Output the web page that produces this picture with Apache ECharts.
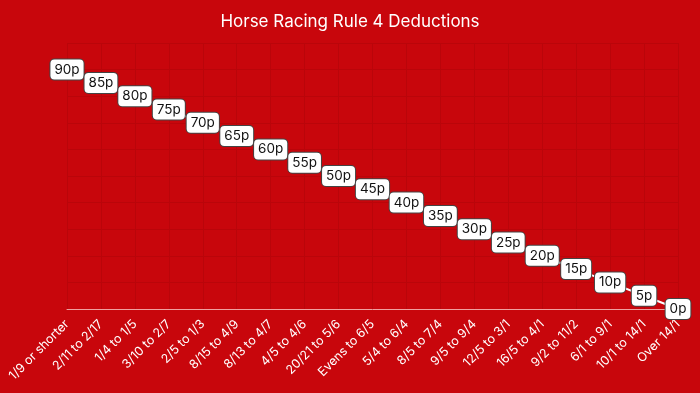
<!DOCTYPE html>
<html><head><meta charset="utf-8">
<script src="https://cdn.jsdelivr.net/npm/echarts@6/dist/echarts.min.js"></script>
<style>html,body{margin:0;padding:0;background:#C8060C;}#c{width:700px;height:393px;}</style>
</head><body><div id="c"></div>
<script>
const categories = ["1/9 or shorter","2/11 to 2/17","1/4 to 1/5","3/10 to 2/7","2/5 to 1/3","8/15 to 4/9","8/13 to 4/7","4/5 to 4/6","20/21 to 5/6","Evens to 6/5","5/4 to 6/4","8/5 to 7/4","9/5 to 9/4","12/5 to 3/1","16/5 to 4/1","9/2 to 11/2","6/1 to 9/1","10/1 to 14/1","Over 14/1"];
const deductions = [90,85,80,75,70,65,60,55,50,45,40,35,30,25,20,15,10,5,0];
const yTicks = {min:0, max:100, interval:10};

const chart = echarts.init(document.getElementById('c'));
chart.setOption({
  backgroundColor:'#C8060C',
  animation:false,
  title:{text:'Horse Racing Rule 4 Deductions', left:'center', top:8,
    textStyle:{color:'#fff', fontSize:17, fontWeight:'normal', fontFamily:'Inter, Lato, sans-serif'}},
  grid:{left:67, right:22, top:43, bottom:84},
  xAxis:{type:'category', data:categories, boundaryGap:false,
    axisLine:{lineStyle:{color:'#F0A0A0', width:1}},
    axisTick:{show:false},
    splitLine:{show:true, lineStyle:{color:'#BA050A', width:1}},
    axisLabel:{rotate:45, color:'#fff', fontSize:12.5, margin:13, interval:0, fontFamily:'Inter, Lato, sans-serif'}},
  yAxis:{type:'value', min:yTicks.min, max:yTicks.max, interval:yTicks.interval,
    axisLabel:{show:false}, axisLine:{show:false}, axisTick:{show:false},
    splitLine:{show:true, lineStyle:{color:'#BA050A', width:1}}},
  series:[{type:'line', data:deductions, symbol:'circle', symbolSize:2,
    lineStyle:{color:'#fff', width:2}, itemStyle:{color:'#fff'},
    label:{show:true, position:'inside', formatter:'{c}p', color:'#111', fontSize:13.5,
      fontFamily:'Inter, Lato, sans-serif',
      backgroundColor:'#fff', borderColor:'#444', borderWidth:1, borderRadius:4,
      padding:[3,4,3,4]}}]
});
</script></body></html>
